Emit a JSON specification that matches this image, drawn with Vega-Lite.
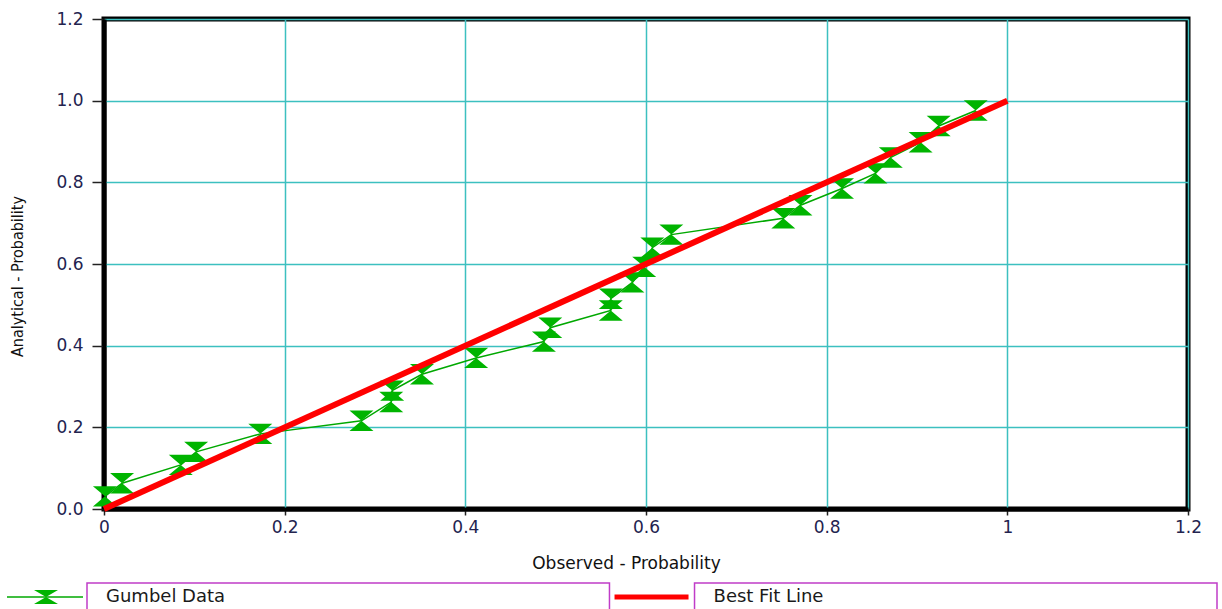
{
  "$schema": "https://vega.github.io/schema/vega-lite/v6.json",
  "background": "white",
  "padding": {"left": 4, "top": 7, "right": 0, "bottom": 0},
  "spacing": 8,
  "config": {
    "view": {"stroke": "black", "strokeWidth": 5},
    "font": "DejaVu Sans"
  },
  "datasets": {
    "gumbel": [
      {"i": 1, "obs": 0.001, "ana": 0.031},
      {"i": 2, "obs": 0.02, "ana": 0.063},
      {"i": 3, "obs": 0.085, "ana": 0.108},
      {"i": 4, "obs": 0.102, "ana": 0.14},
      {"i": 5, "obs": 0.173, "ana": 0.184},
      {"i": 6, "obs": 0.285, "ana": 0.216},
      {"i": 7, "obs": 0.318, "ana": 0.262},
      {"i": 8, "obs": 0.319, "ana": 0.29},
      {"i": 9, "obs": 0.352, "ana": 0.33},
      {"i": 10, "obs": 0.412, "ana": 0.37},
      {"i": 11, "obs": 0.487, "ana": 0.41},
      {"i": 12, "obs": 0.494, "ana": 0.444},
      {"i": 13, "obs": 0.561, "ana": 0.486},
      {"i": 14, "obs": 0.561, "ana": 0.515},
      {"i": 15, "obs": 0.585, "ana": 0.555},
      {"i": 16, "obs": 0.598, "ana": 0.593},
      {"i": 17, "obs": 0.607, "ana": 0.64},
      {"i": 18, "obs": 0.628, "ana": 0.672},
      {"i": 19, "obs": 0.752, "ana": 0.712},
      {"i": 20, "obs": 0.771, "ana": 0.744},
      {"i": 21, "obs": 0.817, "ana": 0.785},
      {"i": 22, "obs": 0.854, "ana": 0.822},
      {"i": 23, "obs": 0.871, "ana": 0.861},
      {"i": 24, "obs": 0.904, "ana": 0.898},
      {"i": 25, "obs": 0.924, "ana": 0.938},
      {"i": 26, "obs": 0.965, "ana": 0.976}
    ],
    "fit": [
      {"obs": 0, "ana": 0},
      {"obs": 1, "ana": 1}
    ],
    "legend": [
      {"series": "Gumbel Data"},
      {"series": "Best Fit Line"}
    ]
  },
  "vconcat": [
    {
      "width": 1084,
      "height": 490,
      "encoding": {
        "x": {
          "field": "obs",
          "type": "quantitative",
          "scale": {"domain": [0, 1.2], "nice": false, "zero": false},
          "axis": {
            "title": "Observed - Probability",
            "values": [0, 0.2, 0.4, 0.6, 0.8, 1, 1.2],
            "labelExpr": "datum.value == 0 || datum.value == 1 ? format(datum.value, 'd') : format(datum.value, '.1f')",
            "grid": true,
            "gridColor": "#3cc0c0",
            "gridWidth": 1.5,
            "domainColor": "black",
            "domainWidth": 4,
            "tickColor": "#222222",
            "tickSize": 6,
            "tickWidth": 1.5,
            "labelFont": "DejaVu Sans",
            "labelFontSize": 17,
            "labelColor": "#23234f",
            "labelPadding": 4,
            "labelFlush": false,
            "labelOverlap": false,
            "titleFont": "DejaVu Sans",
            "titleFontSize": 17,
            "titleFontWeight": "normal",
            "titleColor": "#111111",
            "titlePadding": 20,
            "titleX": 522
          }
        },
        "y": {
          "field": "ana",
          "type": "quantitative",
          "scale": {"domain": [0, 1.2], "nice": false, "zero": false},
          "axis": {
            "title": "Analytical - Probability",
            "values": [0, 0.2, 0.4, 0.6, 0.8, 1, 1.2],
            "format": ".1f",
            "grid": true,
            "gridColor": "#3cc0c0",
            "gridWidth": 1.5,
            "domainColor": "black",
            "domainWidth": 4,
            "tickColor": "#222222",
            "tickSize": 12,
            "tickWidth": 1.5,
            "labelFont": "DejaVu Sans",
            "labelFontSize": 17,
            "labelColor": "#23234f",
            "labelPadding": 9,
            "labelFlush": false,
            "labelOverlap": false,
            "titleFont": "DejaVu Sans Condensed, Liberation Sans, sans-serif",
            "titleFontSize": 16,
            "titleFontWeight": "normal",
            "titleColor": "#111111",
            "titlePadding": 30,
            "titleY": 257
          }
        }
      },
      "layer": [
        {
          "data": {"name": "gumbel"},
          "mark": {"type": "line", "color": "#00a800", "strokeWidth": 1.5},
          "encoding": {"order": {"field": "i", "type": "quantitative"}}
        },
        {
          "data": {"name": "gumbel"},
          "mark": {
            "type": "point",
            "shape": "M-1,-0.85L1,-0.85L0,0L1,0.85L-1,0.85L0,0Z",
            "filled": true,
            "color": "#00b400",
            "opacity": 1,
            "size": 576
          }
        },
        {
          "data": {"name": "fit"},
          "mark": {"type": "line", "color": "#ff0000", "strokeWidth": 6}
        }
      ]
    },
    {
      "width": 1084,
      "height": 28,
      "view": {"stroke": null},
      "data": {"name": "legend"},
      "layer": [
        {
          "mark": {"type": "rect", "fill": "white", "stroke": "#c03cc8", "strokeWidth": 1.5},
          "encoding": {
            "x": {
              "field": "series",
              "type": "nominal",
              "sort": ["Gumbel Data", "Best Fit Line"],
              "scale": {"type": "band", "range": [-17, 1113], "paddingInner": 0.14, "paddingOuter": 0},
              "axis": null
            }
          }
        },
        {
          "mark": {"type": "text", "align": "left", "baseline": "middle", "dx": 19, "fontSize": 18, "font": "DejaVu Sans", "color": "#1a1a1a"},
          "encoding": {
            "x": {"field": "series", "type": "nominal", "sort": ["Gumbel Data", "Best Fit Line"], "bandPosition": 0, "axis": null},
            "text": {"field": "series"}
          }
        },
        {
          "transform": [{"filter": "datum.series == 'Gumbel Data'"}],
          "mark": {"type": "point", "shape": "M-1,0L1,0", "filled": false, "stroke": "#00a800", "strokeWidth": 1.5, "opacity": 1, "size": 5776, "xOffset": -42},
          "encoding": {
            "x": {"field": "series", "type": "nominal", "sort": ["Gumbel Data", "Best Fit Line"], "bandPosition": 0, "axis": null}
          }
        },
        {
          "transform": [{"filter": "datum.series == 'Gumbel Data'"}],
          "mark": {"type": "point", "shape": "M-1,-0.58L1,-0.58L0,0L1,0.58L-1,0.58L0,0Z", "filled": true, "color": "#00b400", "opacity": 1, "size": 576, "xOffset": -41},
          "encoding": {
            "x": {"field": "series", "type": "nominal", "sort": ["Gumbel Data", "Best Fit Line"], "bandPosition": 0, "axis": null}
          }
        },
        {
          "transform": [{"filter": "datum.series == 'Best Fit Line'"}],
          "mark": {"type": "point", "shape": "M-1,0L1,0", "filled": false, "stroke": "#ff0000", "strokeWidth": 5, "opacity": 1, "size": 5476, "xOffset": -43},
          "encoding": {
            "x": {"field": "series", "type": "nominal", "sort": ["Gumbel Data", "Best Fit Line"], "bandPosition": 0, "axis": null}
          }
        }
      ]
    }
  ]
}
